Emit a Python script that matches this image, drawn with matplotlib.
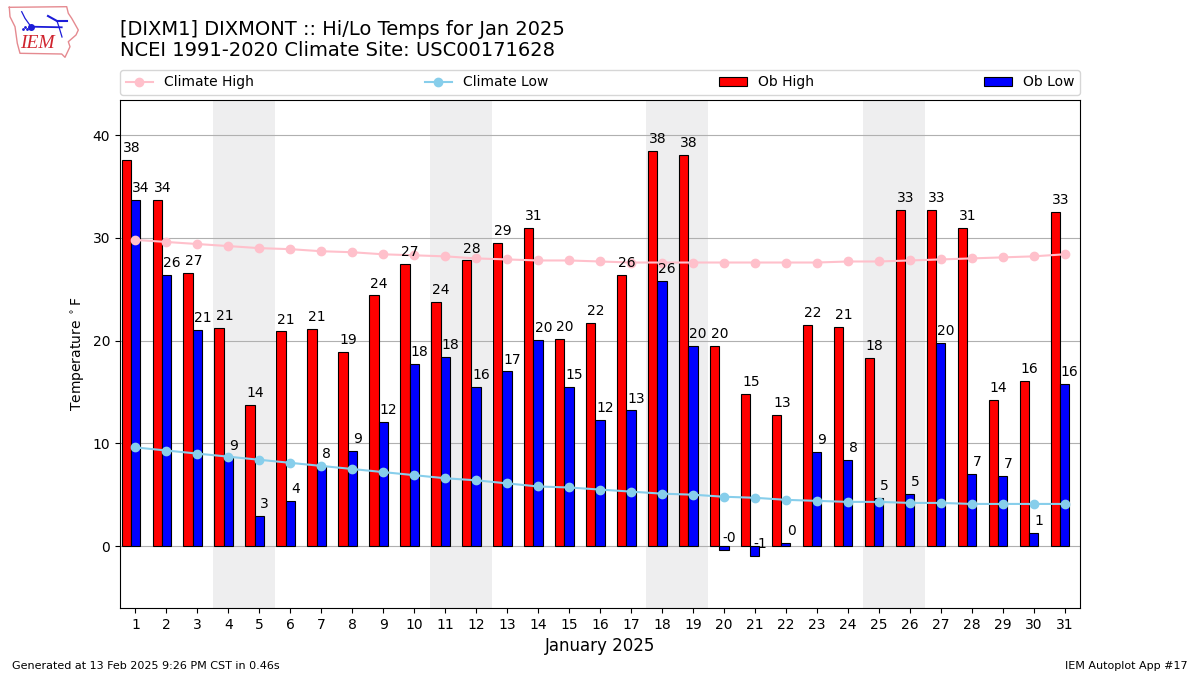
import matplotlib
matplotlib.use("Agg")
import matplotlib.pyplot as plt
import numpy as np

days = list(range(1, 32))
ob_high = [37.6,33.7,26.6,21.2,13.7,20.9,21.1,18.9,24.4,27.49,23.8,27.8,29.49,31.0,20.2,21.7,26.4,38.5,38.1,19.5,14.8,12.8,21.5,21.3,18.3,32.7,32.7,31.0,14.2,16.1,32.51]
ob_low = [33.7,26.4,21.0,8.6,2.9,4.4,7.8,9.3,12.1,17.7,18.4,15.5,17.0,20.1,15.49,12.3,13.2,25.8,19.5,-0.4,-1.0,0.3,9.2,8.4,4.7,5.1,19.8,7.0,6.8,1.3,15.8]
clim_high = [29.8,29.6,29.4,29.2,29.0,28.9,28.7,28.6,28.4,28.3,28.2,28.0,27.9,27.8,27.8,27.7,27.6,27.6,27.6,27.6,27.6,27.6,27.6,27.7,27.7,27.8,27.9,28.0,28.1,28.2,28.4]
clim_low = [9.6,9.3,9.0,8.7,8.4,8.1,7.8,7.5,7.2,6.9,6.6,6.4,6.1,5.8,5.7,5.5,5.3,5.1,5.0,4.8,4.7,4.5,4.4,4.3,4.3,4.2,4.2,4.1,4.1,4.1,4.1]
weekends = [4,5,11,12,18,19,25,26]

fig = plt.figure(figsize=(12,6.75), dpi=100)
ax = fig.add_axes([120/1200, 1-608/675, 960/1200, 508/675])
for d in weekends:
    ax.axvspan(d-0.5, d+0.5, color="#eeeeef", lw=0, zorder=0)
x = np.array(days)
w = 0.3
ax.bar(x-w, ob_high, w, color="red", edgecolor="k", lw=0.8, label="Ob High", zorder=2)
ax.bar(x, ob_low, w, color="blue", edgecolor="k", lw=0.8, label="Ob Low", zorder=2)
ax.plot(x, clim_high, color="pink", marker="o", ms=6, lw=1.5, label="Climate High", zorder=3)
ax.plot(x, clim_low, color="skyblue", marker="o", ms=6, lw=1.5, label="Climate Low", zorder=3)
for d, v in zip(x, ob_high):
    ax.text(d-w+0.17, v+0.47, f"{v:.0f}", ha="center", va="bottom", fontsize=10, zorder=5)
for d, v in zip(x, ob_low):
    ax.text(d+0.17, v+0.47, f"{v:.0f}", ha="center", va="bottom", fontsize=10, zorder=5)
ax.set_xlim(0.5, 31.5)
ax.set_ylim(-6.03, 43.42)
ax.set_xticks(days)
ax.set_yticks([0,10,20,30,40])
ax.yaxis.grid(True, color="#b0b0b0", lw=0.8, zorder=1)
ax.set_axisbelow(True)
ax.set_ylabel(r"Temperature $^\circ$F", fontsize=10)
ax.set_xlabel("January 2025", fontsize=12)
ax.tick_params(labelsize=10)
h, l = ax.get_legend_handles_labels()
order = [l.index(n) for n in ["Climate High","Climate Low","Ob High","Ob Low"]]
fig.legend([h[i] for i in order],[l[i] for i in order], ncol=4, mode="expand", loc="lower left",
           bbox_to_anchor=(120/1200, 1-95/675, 960/1200, 25/675), fontsize=10, borderaxespad=0)
fig.text(120/1200, 1-29.5/675, "[DIXM1] DIXMONT :: Hi/Lo Temps for Jan 2025", fontsize=14, va="center")
fig.text(120/1200, 1-51/675, "NCEI 1991-2020 Climate Site: USC00171628", fontsize=14, va="center")
fig.text(12/1200, 1-666/675, "Generated at 13 Feb 2025 9:26 PM CST in 0.46s", fontsize=8, va="center")
fig.text(1188/1200, 1-666/675, "IEM Autoplot App #17", fontsize=8, va="center", ha="right")

# logo, drawn in pixel coordinates of its own small box
logo = fig.add_axes([0, 1-64/675, 90/1200, 64/675])
logo.set_xlim(0, 90); logo.set_ylim(64, 0); logo.axis("off")
out_x = [9.3,66.7,68.3,71.7,78.3,76,68.3,70,65,61.7,20,17.3,15,10,9.3]
out_y = [7.3,6.7,13.3,18.3,30,35,41.7,46.7,57.3,54,53.3,43.3,26.7,16.7,7.3]
logo.plot(out_x, out_y, color="#e58a90", lw=1)
logo.plot([31.7,61.7],[26.7,27.3], color="#1c1cd8", lw=1.3)
logo.plot([31],[26.7], "o", color="#1c1cd8", ms=4)
logo.plot([48,57,67],[16,21,21], color="#1c1cd8", lw=1.5)
logo.plot([21.7,25,31],[11.7,18.3,26.7], color="#1c1cd8", lw=0.9)
logo.plot([57,59,62],[21,27,37], color="#1c1cd8", lw=0.9)
logo.plot([23,25,27],[29,27,29], ".", color="#1c1cd8", ms=2)
logo.text(37.5, 44, "IEM", fontsize=14, color="#d0242e", family="Liberation Serif", style="italic", va="center", ha="center")
fig.savefig("out.png", dpi=100)
